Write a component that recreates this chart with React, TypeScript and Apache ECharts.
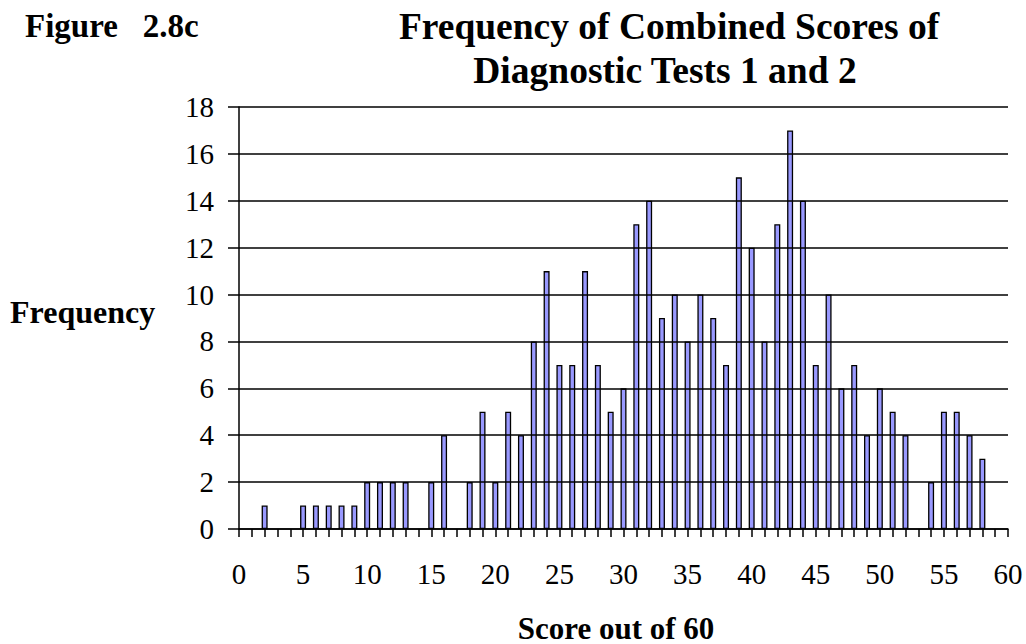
import React, { useEffect, useRef } from "react";
import * as echarts from "echarts";

const scores: number[] = Array.from({ length: 61 }, (_, i) => i);
const frequencies: number[] = [
  0, 0, 1, 0, 0, 1, 1, 1, 1, 1,
  2, 2, 2, 2, 0, 2, 4, 0, 2, 5,
  2, 5, 4, 8, 11, 7, 7, 11, 7, 5,
  6, 13, 14, 9, 10, 8, 10, 9, 7, 15,
  12, 8, 13, 17, 14, 7, 10, 6, 7, 4,
  6, 5, 4, 0, 2, 5, 5, 4, 3, 0,
  0,
];
const titleLines: string[] = ["Frequency of Combined Scores of", "Diagnostic Tests 1 and 2"];
const figureLabel = "Figure   2.8c";
const yAxisTitle = "Frequency";
const xAxisTitle = "Score out of 60";

const SERIF = "Liberation Serif";

export default function App() {
  const ref = useRef<HTMLDivElement>(null);
  useEffect(() => {
    if (!ref.current) return;
    const chart = echarts.init(ref.current, undefined, { renderer: "svg" });
    const data = scores.map((s, i) => [s, frequencies[i] === 0 ? null : frequencies[i]]);
    const txt = (text: string, x: number, y: number, size: number, align: string) => ({
      type: "text",
      x,
      y,
      style: {
        text,
        fill: "#000",
        fontFamily: SERIF,
        fontWeight: "bold",
        fontSize: size,
        align,
        verticalAlign: "middle",
      },
    });
    chart.setOption({
      animation: false,
      backgroundColor: "#ffffff",
      grid: { left: 239, top: 107, right: 18, bottom: 115, containLabel: false },
      xAxis: {
        type: "value",
        min: 0,
        max: 60,
        interval: 5,
        z: 3,
        axisLine: { show: true, lineStyle: { color: "#000", width: 1.5 } },
        axisTick: { show: true, length: 8, lineStyle: { color: "#000", width: 1.5 } },
        minorTick: { show: true, splitNumber: 5, length: 8, lineStyle: { color: "#000", width: 1.5 } },
        splitLine: { show: false },
        axisLabel: { color: "#000", fontSize: 29, fontFamily: SERIF, margin: 30 },
      },
      yAxis: {
        type: "value",
        min: 0,
        max: 18,
        interval: 2,
        z: 3,
        axisLine: { show: true, lineStyle: { color: "#000", width: 1.5 } },
        axisTick: { show: true, length: 11, lineStyle: { color: "#000", width: 1.5 } },
        splitLine: { show: true, lineStyle: { color: "#000", width: 1.5 } },
        axisLabel: { color: "#000", fontSize: 29, fontFamily: SERIF, margin: 25 },
      },
      series: [
        {
          type: "bar",
          data,
          barWidth: 6,
          itemStyle: { color: "#9999ff", borderColor: "#000", borderWidth: 1.3 },
        },
      ],
      graphic: [
        txt(figureLabel, 25, 26, 33, "left"),
        txt(titleLines[0], 669, 26, 37.5, "center"),
        txt(titleLines[1], 665, 70, 37.5, "center"),
        txt(yAxisTitle, 10, 312, 32, "left"),
        txt(xAxisTitle, 616, 628, 31, "center"),
      ],
    });
    return () => chart.dispose();
  }, []);
  return (
    <div
      ref={ref}
      style={{ position: "absolute", left: 0, top: 0, width: 1026, height: 644 }}
    />
  );
}
